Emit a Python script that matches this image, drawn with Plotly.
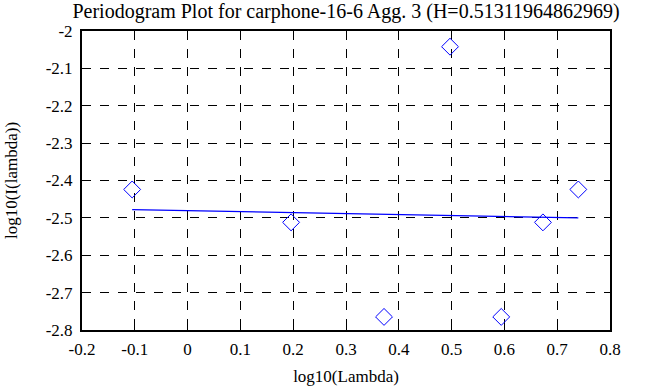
import plotly.graph_objects as go

log_lambda = [-0.105, 0.196, 0.372, 0.497, 0.594, 0.673, 0.740]
log_I = [-2.424, -2.512, -2.765, -2.042, -2.765, -2.512, -2.424]

fit_x = [-0.105, 0.740]
fit_y = [-2.478, -2.500]

x_ticks = [-0.2, -0.1, 0, 0.1, 0.2, 0.3, 0.4, 0.5, 0.6, 0.7, 0.8]
x_tick_labels = ["-0.2", "-0.1", "0", "0.1", "0.2", "0.3", "0.4", "0.5", "0.6", "0.7", "0.8"]
y_ticks = [-2.8, -2.7, -2.6, -2.5, -2.4, -2.3, -2.2, -2.1, -2.0]
y_tick_labels = ["-2.8", "-2.7", "-2.6", "-2.5", "-2.4", "-2.3", "-2.2", "-2.1", "-2"]

title = "Periodogram Plot for carphone-16-6 Agg. 3 (H=0.51311964862969)"

fig = go.Figure()
fig.add_trace(go.Scatter(
    x=log_lambda, y=log_I, mode="markers",
    marker=dict(symbol="diamond-open", size=13, color="#0000ff", line=dict(width=1, color="#0000ff")),
    showlegend=False,
))
fig.add_trace(go.Scatter(
    x=fit_x, y=fit_y, mode="lines",
    line=dict(color="#0000ff", width=1.3),
    showlegend=False,
))

font = "Liberation Serif"
axis_common = dict(
    showline=True, linecolor="black", linewidth=2, mirror="ticks",
    ticks="inside", ticklen=5, tickcolor="black", tickwidth=1,
    showgrid=True, gridcolor="black", griddash="dash", gridwidth=1,
    zeroline=False, automargin=False,
    tickfont=dict(family=font, size=17, color="black"),
)

fig.update_layout(
    width=663, height=387,
    margin=dict(l=82, r=53, t=31, b=57),
    paper_bgcolor="white", plot_bgcolor="white",
    title=dict(text=title, x=346 / 663, xanchor="center", y=1 - 11 / 387, yanchor="middle",
               font=dict(family=font, size=20, color="black")),
    xaxis=dict(range=[-0.2, 0.8], tickvals=x_ticks, ticktext=x_tick_labels,
               ticklabelstandoff=3,
               title=dict(text="log10(Lambda)", font=dict(family=font, size=17, color="black"), standoff=12),
               **axis_common),
    yaxis=dict(range=[-2.8, -2.0], tickvals=y_ticks, ticktext=y_tick_labels,
               ticklabelstandoff=4,
               title=dict(text="log10(I(lambda))", font=dict(family=font, size=17, color="black"), standoff=24),
               **axis_common),
)

fig.write_html("out.html", config={"displayModeBar": False},
               post_script="document.body.style.margin='0';")
